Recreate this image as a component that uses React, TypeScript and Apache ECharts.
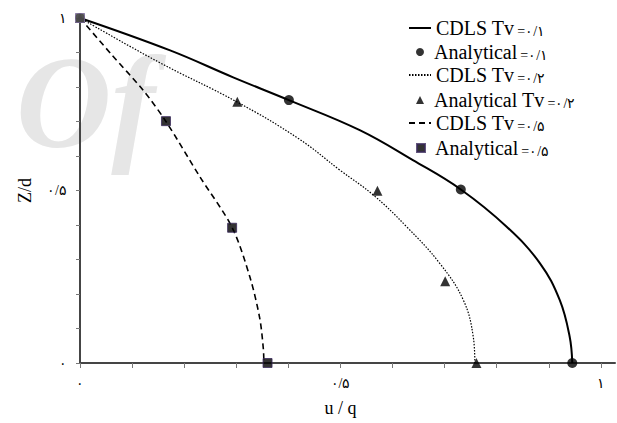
import React, { useEffect, useRef } from 'react';
import * as echarts from 'echarts';

// ---- data ----
const seriesNames = [
  'CDLS Tv =۰/۱',
  'Analytical =۰/۱',
  'CDLS Tv =۰/۲',
  'Analytical Tv =۰/۲',
  'CDLS Tv =۰/۵',
  'Analytical =۰/۵',
];

// CDLS curves, points as [u/q, Z/d]
const cdls01 = [
  [0, 1], [0.173, 0.906], [0.294, 0.828], [0.401, 0.762], [0.537, 0.675],
  [0.639, 0.588], [0.731, 0.503], [0.819, 0.395], [0.883, 0.289],
  [0.921, 0.182], [0.94, 0.076], [0.945, 0],
];
const cdls02 = [
  [0, 1], [0.15, 0.873], [0.301, 0.757], [0.42, 0.65], [0.499, 0.559],
  [0.563, 0.487], [0.627, 0.395], [0.691, 0.288], [0.736, 0.182],
  [0.755, 0.075], [0.758, 0],
];
const cdls05 = [
  [0, 1], [0.06, 0.895], [0.1215, 0.79], [0.165, 0.7], [0.23, 0.54],
  [0.292, 0.393], [0.326, 0.25], [0.345, 0.13], [0.352, 0.04], [0.353, 0],
];

// Analytical points
const analytical01 = [[0, 1], [0.401, 0.762], [0.731, 0.503], [0.945, 0]];
const analytical02 = [[0, 1], [0.302, 0.757], [0.571, 0.499], [0.701, 0.237], [0.761, 0]];
const analytical05 = [[0, 1], [0.165, 0.701], [0.292, 0.392], [0.36, 0]];

// axes
const tickValues = [0, 0.1, 0.2, 0.3, 0.4, 0.5, 0.6, 0.7, 0.8, 0.9, 1];
const labelValues = [0, 0.5, 1];
const labelTexts = ['۰', '۰/۵', '۱'];
const xTitle = 'u / q';
const yTitle = 'Z/d';
const watermarkText = 'Of';

const SERIF = '"Liberation Serif", "DejaVu Serif", serif';

function fmtLabel(v: number): string {
  const i = labelValues.findIndex((l) => Math.abs(l - v) < 1e-6);
  return i >= 0 ? labelTexts[i] : '';
}

const legendText = {
  fontFamily: SERIF,
  color: '#000',
  rich: {
    a: { fontFamily: SERIF, fontSize: 20, lineHeight: 20, color: '#000' },
    b: { fontFamily: SERIF, fontSize: 14, lineHeight: 20, color: '#000', verticalAlign: 'bottom' },
  },
};

function legendFormatter(name: string) {
  const idx = name.indexOf(' =');
  return `{a|${name.slice(0, idx)}} {b|${name.slice(idx + 1)}}`;
}

// one legend block per entry so that marker-only entries get a square icon box
function makeLegend(i: number) {
  const isLine = i % 2 === 0;
  const rowTops = [13, 37, 60, 85, 108, 133];
  return {
    orient: 'vertical',
    left: isLine ? 403 : 411,
    top: rowTops[i],
    itemWidth: isLine ? 22 : 8,
    itemHeight: 8,
    selectedMode: false,
    data: [seriesNames[i]],
    formatter: legendFormatter,
    textStyle: { ...legendText, padding: [0, 0, 0, isLine ? 0 : 5] },
  };
}

export default function App() {
  const ref = useRef<HTMLDivElement>(null);

  useEffect(() => {
    if (!ref.current) return;
    const chart = echarts.init(ref.current, null, { renderer: 'svg' });

    const axisLine = { lineStyle: { color: '#454545', width: 2 } };
    const hiddenSymbol = { color: '#000', opacity: 0 };

    chart.setOption({
      animation: false,
      backgroundColor: '#ffffff',
      graphic: [
        {
          type: 'text',
          x: 16,
          y: 36,
          z: -10,
          silent: true,
          style: {
            text: watermarkText,
            font: 'italic bold 132px "Liberation Serif"',
            fill: '#e6e6e6',
            verticalAlign: 'top',
          },
        },
      ],
      legend: seriesNames.map((_, i) => makeLegend(i)),
      grid: { left: 80, top: 18, right: 2, bottom: 60, containLabel: false },
      xAxis: {
        type: 'value',
        min: 0,
        max: 1.027,
        splitLine: { show: false },
        axisLine,
        axisTick: {
          show: true,
          length: 5,
          customValues: tickValues,
          lineStyle: { color: '#777', width: 1 },
        },
        axisLabel: {
          customValues: labelValues,
          formatter: (v: number) => fmtLabel(v),
          margin: 13,
          fontSize: 14,
          fontFamily: SERIF,
          color: '#000',
        },
        name: xTitle,
        nameLocation: 'middle',
        nameGap: 36,
        nameTextStyle: { fontFamily: SERIF, fontSize: 18, color: '#000', padding: [0, 14, 0, 0] },
      },
      yAxis: {
        type: 'value',
        min: 0,
        max: 1,
        splitLine: { show: false },
        axisLine,
        axisTick: {
          show: true,
          length: 4,
          customValues: tickValues,
          lineStyle: { color: '#777', width: 1 },
        },
        axisLabel: {
          customValues: labelValues,
          formatter: (v: number) => fmtLabel(v),
          margin: 13,
          fontSize: 14,
          fontFamily: SERIF,
          color: '#000',
        },
        name: yTitle,
        nameLocation: 'middle',
        nameGap: 46,
        nameTextStyle: { fontFamily: SERIF, fontSize: 18, color: '#000' },
      },
      series: [
        {
          name: seriesNames[0],
          type: 'line',
          data: cdls01,
          smooth: 0.4,
          symbol: 'none',
          lineStyle: { color: '#000', width: 2, type: 'solid' },
          itemStyle: hiddenSymbol,
          z: 2,
        },
        {
          name: seriesNames[1],
          type: 'scatter',
          data: analytical01,
          symbol: 'circle',
          symbolSize: 10,
          itemStyle: { color: '#000' },
          z: 4,
        },
        {
          name: seriesNames[2],
          type: 'line',
          data: cdls02,
          smooth: 0.4,
          symbol: 'none',
          lineStyle: { color: '#000', width: 1.2, type: [1.5, 1.5] },
          itemStyle: hiddenSymbol,
          z: 2,
        },
        {
          name: seriesNames[3],
          type: 'scatter',
          data: analytical02,
          symbol: 'triangle',
          symbolSize: 10,
          itemStyle: { color: '#000' },
          z: 4,
        },
        {
          name: seriesNames[4],
          type: 'line',
          data: cdls05,
          smooth: 0.3,
          symbol: 'none',
          lineStyle: { color: '#000', width: 1.6, type: [6, 4] },
          itemStyle: hiddenSymbol,
          z: 2,
        },
        {
          name: seriesNames[5],
          type: 'scatter',
          data: analytical05.map((p, i) =>
            i === 0
              ? { value: p, itemStyle: { color: '#5a5a5a', borderColor: '#7a6a9a', borderWidth: 1 } }
              : { value: p }
          ),
          symbol: 'rect',
          symbolSize: 9,
          itemStyle: { color: '#000', borderColor: '#3b2a5c', borderWidth: 1 },
          z: 5,
        },
      ],
    });

    return () => chart.dispose();
  }, []);

  return (
    <div
      ref={ref}
      style={{ position: 'fixed', left: 0, top: 0, width: 617, height: 423 }}
    />
  );
}
